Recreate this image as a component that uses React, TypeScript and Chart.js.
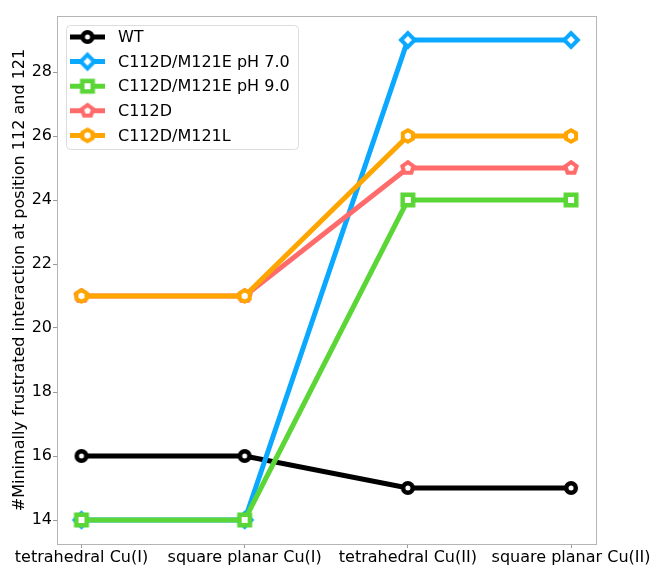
import React, { useEffect, useRef } from 'react';
import { Chart, registerables } from 'chart.js';

Chart.register(...registerables);

const categories = ['tetrahedral Cu(I)', 'square planar Cu(I)', 'tetrahedral Cu(II)', 'square planar Cu(II)'];
const seriesNames = ['WT', 'C112D/M121E pH 7.0', 'C112D/M121E pH 9.0', 'C112D', 'C112D/M121L'];
const wtValues = [16, 16, 15, 15];
const m121ePh7Values = [14, 14, 29, 29];
const m121ePh9Values = [14, 14, 24, 24];
const c112dValues = [21, 21, 25, 25];
const m121lValues = [21, 21, 26, 26];
const yTickValues = [14, 16, 18, 20, 22, 24, 26, 28];
const yLabel = '#Minimally frustrated interaction at position 112 and 121';

const seriesValues = [wtValues, m121ePh7Values, m121ePh9Values, c112dValues, m121lValues];
const seriesColors = ['#000000', '#0aa8ff', '#5ad636', '#ff6b6b', '#ffa500'];
const seriesShapes = ['circle', 'diamond', 'square', 'pentagon', 'hexagon'];

const FONT = "'DejaVu Sans', sans-serif";

function markerCanvas(shape: string, color: string): HTMLCanvasElement {
  const c = document.createElement('canvas');
  c.width = 28;
  c.height = 28;
  const ctx = c.getContext('2d')!;
  const cx = 14;
  const cy = 14;
  ctx.beginPath();
  let lw = 4;
  if (shape === 'circle') {
    ctx.arc(cx, cy, 4.75, 0, Math.PI * 2);
    lw = 4.5;
  } else if (shape === 'diamond') {
    const r = 6.8;
    ctx.moveTo(cx, cy - r);
    ctx.lineTo(cx + r, cy);
    ctx.lineTo(cx, cy + r);
    ctx.lineTo(cx - r, cy);
    lw = 4;
  } else if (shape === 'square') {
    const h = 5.25;
    ctx.rect(cx - h, cy - h, 2 * h, 2 * h);
    lw = 4.5;
  } else {
    const n = shape === 'pentagon' ? 5 : 6;
    const r = shape === 'pentagon' ? 5.9 : 5.8;
    for (let i = 0; i < n; i++) {
      const a = -Math.PI / 2 + (i * 2 * Math.PI) / n;
      const px = cx + r * Math.cos(a);
      const py = cy + r * Math.sin(a);
      if (i === 0) ctx.moveTo(px, py);
      else ctx.lineTo(px, py);
    }
    lw = 4;
  }
  ctx.closePath();
  ctx.fillStyle = '#ffffff';
  ctx.fill();
  ctx.lineJoin = 'miter';
  ctx.lineWidth = lw;
  ctx.strokeStyle = color;
  ctx.stroke();
  return c;
}

export default function App() {
  const ref = useRef<HTMLCanvasElement | null>(null);

  useEffect(() => {
    if (!ref.current) return;
    const markers = seriesShapes.map((s, i) => markerCanvas(s, seriesColors[i]));

    const datasets = seriesNames.map((name, i) => ({
      label: name,
      data: seriesValues[i].map((v, j) => ({ x: j, y: v })),
      borderColor: seriesColors[i],
      backgroundColor: seriesColors[i],
      borderWidth: 5,
      pointStyle: markers[i] as any,
      pointRadius: 7,
      pointHoverRadius: 7,
      tension: 0,
      order: seriesNames.length - i,
      clip: false as any,
    }));

    const framePlugin = {
      id: 'frameAndLegend',
      afterDraw(chart: any) {
        const { ctx, chartArea } = chart;
        ctx.save();
        ctx.strokeStyle = '#b5b5b5';
        ctx.lineWidth = 1;
        ctx.strokeRect(
          Math.round(chartArea.left) + 0.5,
          Math.round(chartArea.top) + 0.5,
          Math.round(chartArea.right - chartArea.left),
          Math.round(chartArea.bottom - chartArea.top)
        );
        // legend
        const bx = 66.5, by = 25.5, bw = 232, bh = 124, rr = 4;
        ctx.beginPath();
        ctx.moveTo(bx + rr, by);
        ctx.lineTo(bx + bw - rr, by);
        ctx.quadraticCurveTo(bx + bw, by, bx + bw, by + rr);
        ctx.lineTo(bx + bw, by + bh - rr);
        ctx.quadraticCurveTo(bx + bw, by + bh, bx + bw - rr, by + bh);
        ctx.lineTo(bx + rr, by + bh);
        ctx.quadraticCurveTo(bx, by + bh, bx, by + bh - rr);
        ctx.lineTo(bx, by + rr);
        ctx.quadraticCurveTo(bx, by, bx + rr, by);
        ctx.closePath();
        ctx.fillStyle = 'rgba(255,255,255,0.8)';
        ctx.fill();
        ctx.strokeStyle = '#dcdcdc';
        ctx.stroke();
        const rowY0 = 37, rowDy = 24.6;
        seriesNames.forEach((name, i) => {
          const y = rowY0 + i * rowDy;
          ctx.beginPath();
          ctx.moveTo(70, y);
          ctx.lineTo(105, y);
          ctx.strokeStyle = seriesColors[i];
          ctx.lineWidth = 5;
          ctx.lineCap = 'butt';
          ctx.stroke();
          const m = markers[i];
          ctx.drawImage(m, 87.5 - m.width / 2, y - m.height / 2);
          ctx.fillStyle = '#000';
          ctx.font = `16px ${FONT}`;
          ctx.textAlign = 'left';
          ctx.textBaseline = 'middle';
          ctx.fillText(name, 118, y + 1);
        });
        ctx.restore();
      },
    };

    const chart = new Chart(ref.current, {
      type: 'line',
      data: { datasets: datasets as any },
      options: {
        animation: false,
        responsive: false,
        devicePixelRatio: 1,
        events: [],
        layout: { padding: { top: 16, right: 56, left: 0, bottom: 0 } },
        plugins: { legend: { display: false }, tooltip: { enabled: false } },
        scales: {
          x: {
            type: 'linear',
            min: -0.15,
            max: 3.15,
            afterBuildTicks: (scale: any) => {
              scale.ticks = categories.map((_, i) => ({ value: i }));
            },
            afterFit: (scale: any) => {
              scale.height = 21;
            },
            ticks: {
              autoSkip: false,
              maxRotation: 0,
              minRotation: 0,
              padding: 0,
              color: '#000',
              font: { family: FONT, size: 16 },
              callback: (v: any) => categories[Math.round(Number(v))] ?? '',
            },
            grid: { display: true, drawOnChartArea: false, drawTicks: true, tickLength: 4, color: '#999' },
            border: { display: false },
          },
          y: {
            type: 'linear',
            min: 13.25,
            max: 29.75,
            afterBuildTicks: (scale: any) => {
              scale.ticks = yTickValues.map((v) => ({ value: v }));
            },
            afterFit: (scale: any) => {
              scale.width = 57;
            },
            ticks: {
              padding: 1,
              color: '#000',
              font: { family: FONT, size: 16 },
              callback: (v: any) => String(v),
            },
            grid: { display: true, drawOnChartArea: false, drawTicks: true, tickLength: 4, color: '#999' },
            border: { display: false },
            title: {
              display: true,
              text: yLabel,
              color: '#000',
              font: { family: FONT, size: 16 },
              padding: { top: 10, bottom: 0 },
            },
          },
        },
      },
      plugins: [framePlugin],
    });
    return () => chart.destroy();
  }, []);

  return (
    <div style={{ position: 'fixed', left: 0, top: 0, width: 653, height: 565, background: '#fff' }}>
      <canvas ref={ref} width={653} height={565} style={{ display: 'block' }} />
    </div>
  );
}
